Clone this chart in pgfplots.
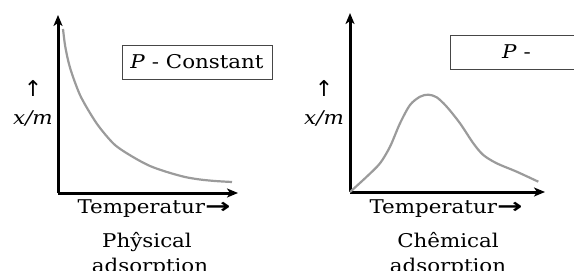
\documentclass[border=0pt]{standalone}
\usepackage{fontspec}
\usepackage{graphicx}
\setmainfont{DejaVu Serif}[FakeStretch=1.13]
\newfontfamily\symf{DejaVu Sans}
\usepackage{pgfplots}
\pgfplotsset{compat=1.18}
\usetikzlibrary{arrows.meta}
\definecolor{cg}{RGB}{155,155,155}
\definecolor{bx}{RGB}{70,70,70}
\newcommand{\rarr}{{\symf\bfseries\fontsize{21}{22}\selectfont\scalebox{1.45}[1]{→}}}
\tikzset{axarr/.style={line width=3bp,-{Stealth[length=11bp,width=9bp,inset=3bp]}}}
\pgfplotsset{myax/.style={anchor=south west, scale only axis, axis lines=none,
  xtick=\empty, ytick=\empty, clip=false}}
\begin{document}
\begin{tikzpicture}[x=1bp,y=1bp, every node/.style={font=\fontsize{19}{22}\selectfont}]
\useasboundingbox (0,0) rectangle (574,270);
\begin{axis}[myax, at={(58bp,77bp)}, width=180bp, height=178bp, xmin=0, xmax=180, ymin=0, ymax=178]
\draw[axarr] (rel axis cs:0,0) -- (rel axis cs:0,1);
\draw[axarr] (rel axis cs:0,0) -- (rel axis cs:1,0);
\addplot[cg, line width=2.2bp, smooth] coordinates {
(5,164) (7,148) (10,133) (14,119) (22,98) (32,80) (42,65) (57,48) (75,36) (92,27) (109,21) (127,16) (142,13.5) (157,12) (174,11)};
\end{axis}
\begin{axis}[myax, at={(350bp,78bp)}, width=195bp, height=179bp, xmin=0, xmax=195, ymin=0, ymax=179]
\draw[axarr] (rel axis cs:0,0) -- (rel axis cs:0,1);
\draw[axarr] (rel axis cs:0,0) -- (rel axis cs:1,0);
\addplot[cg, line width=2.2bp, smooth] coordinates {
(0,0) (16.7,15.3) (30,28.7) (40,45.3) (50,68.7) (60,87) (70,95.3) (78.3,97.3) (86.7,94.7) (96.7,85.3) (110,68.7) (123.3,48.7) (133.3,37) (146.7,28.7) (166.7,20.3) (188.3,10.3)};
\end{axis}
% left panel
\node[font=\symf\fontsize{22}{24}\selectfont] at (33,182) {↑};
\node[anchor=base] at (33,146) {\textit{x/m}};
\node[anchor=base] at (154,57) {Temperatur\rarr};
\node[anchor=base] at (147,23) {Phŷsical};
\node[anchor=base] at (150,-2) {adsorption};
\draw[bx, line width=0.8bp] (122.7,225) rectangle (272,191);
\node[anchor=base] at (197,202) {\textit{P} - Constant};
% right panel
\node[font=\symf\fontsize{22}{24}\selectfont] at (324,182) {↑};
\node[anchor=base] at (324,146) {\textit{x/m}};
\node[anchor=base] at (446,57) {Temperatur\rarr};
\node[anchor=base] at (448,23) {Chêmical};
\node[anchor=base] at (448,-2) {adsorption};
\draw[bx, line width=0.8bp] (450,235) rectangle (600,201);
\node[anchor=base west, inner sep=0pt] at (502,212) {\textit{P} -};
\end{tikzpicture}
\end{document}
